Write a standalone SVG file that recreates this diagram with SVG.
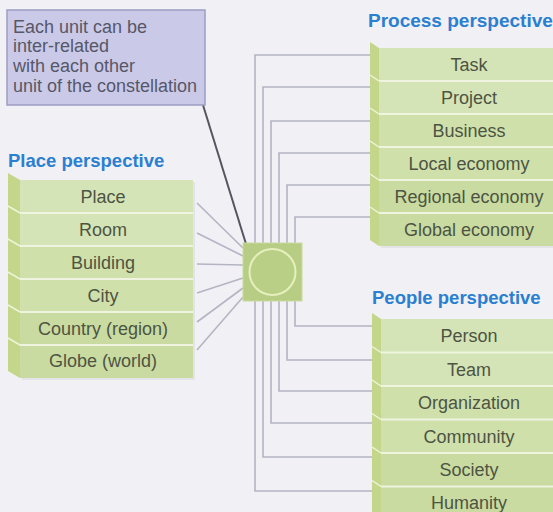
<svg xmlns="http://www.w3.org/2000/svg" width="553" height="512" viewBox="0 0 553 512">
<defs>
<style>
.bg{fill:#f1f1f5}
.row{fill:#d5e4b6}
.row2{fill:#cfe0ab}
.row3{fill:#c9dba0}
.side{fill:#c3d68a}
.sep{stroke:#eef4e0;stroke-width:2}
.diag{stroke:#eef4d8;stroke-width:1.5}
.lbl{font-family:"Liberation Sans",Arial,sans-serif;font-size:18px;fill:#4d5444;text-anchor:middle}
.ttl{font-family:"Liberation Sans",Arial,sans-serif;font-size:18.5px;font-weight:bold;fill:#2b7fd1}
.note{font-family:"Liberation Sans",Arial,sans-serif;font-size:18px;fill:#575768}
.conn{fill:none;stroke:#b4b4c4;stroke-width:1.6}
</style>
</defs>
<rect class="bg" x="0" y="0" width="553" height="512"/>

<g id="connectors">
<!-- process -->
<path class="conn" d="M255,243 V55 H370"/>
<path class="conn" d="M263,243 V87 H370"/>
<path class="conn" d="M271,243 V121 H370"/>
<path class="conn" d="M279,243 V153 H370"/>
<path class="conn" d="M287,243 V185 H370"/>
<path class="conn" d="M295,243 V217 H370"/>
<!-- people -->
<path class="conn" d="M295,301 V326 H372"/>
<path class="conn" d="M287,301 V360 H372"/>
<path class="conn" d="M279,301 V391 H372"/>
<path class="conn" d="M271,301 V423 H372"/>
<path class="conn" d="M263,301 V457 H372"/>
<path class="conn" d="M255,301 V491 H372"/>
<!-- place -->
<path class="conn" d="M197,203 L243,248"/>
<path class="conn" d="M197,233 L243,256"/>
<path class="conn" d="M197,264 L243,265"/>
<path class="conn" d="M197,293 L243,278"/>
<path class="conn" d="M197,322 L243,288"/>
<path class="conn" d="M197,350 L243,297"/>
<!-- callout pointer -->
<path d="M203,105 L246,244" fill="none" stroke="#55555f" stroke-width="2"/>
</g>

<g id="callout">
<rect x="7" y="10" width="198" height="95" fill="#cacae8" stroke="#9d9dc4" stroke-width="1.5"/>
<text class="note" x="13" y="33">Each unit can be</text>
<text class="note" x="13" y="52">inter-related</text>
<text class="note" x="13" y="72">with each other</text>
<text class="note" x="13" y="92">unit of the constellation</text>
</g>

<g id="center">
<rect x="243" y="243" width="59" height="58" fill="#b7cd84" stroke="#c9d9a0" stroke-width="1"/>
<circle cx="272.5" cy="272" r="23" fill="#b9cf86" stroke="#e6efbe" stroke-width="2"/>
</g>

<!-- Place perspective -->
<g id="place">
<text class="ttl" x="8" y="167">Place perspective</text>
<g transform="translate(0,180)">
<rect x="22" y="2" width="173" height="198" fill="#e4e4e8"/>
<rect class="row" x="20" y="0" width="173" height="33"/>
<rect class="row" x="20" y="33" width="173" height="33"/>
<rect class="row2" x="20" y="66" width="173" height="33"/>
<rect class="row2" x="20" y="99" width="173" height="33"/>
<rect class="row3" x="20" y="132" width="173" height="33"/>
<rect class="row3" x="20" y="165" width="173" height="33"/>
<polygon class="side" points="8,-7 20,0 20,198 8,191"/>
<line class="sep" x1="20" y1="33" x2="193" y2="33"/>
<line class="sep" x1="20" y1="66" x2="193" y2="66"/>
<line class="sep" x1="20" y1="99" x2="193" y2="99"/>
<line class="sep" x1="20" y1="132" x2="193" y2="132"/>
<line class="sep" x1="20" y1="165" x2="193" y2="165"/>
<line class="diag" x1="8" y1="26" x2="20" y2="33"/>
<line class="diag" x1="8" y1="59" x2="20" y2="66"/>
<line class="diag" x1="8" y1="92" x2="20" y2="99"/>
<line class="diag" x1="8" y1="125" x2="20" y2="132"/>
<line class="diag" x1="8" y1="158" x2="20" y2="165"/>
<text class="lbl" x="103" y="23">Place</text>
<text class="lbl" x="103" y="56">Room</text>
<text class="lbl" x="103" y="89">Building</text>
<text class="lbl" x="103" y="122">City</text>
<text class="lbl" x="103" y="155">Country (region)</text>
<text class="lbl" x="103" y="187">Globe (world)</text>
</g>
</g>

<!-- Process perspective -->
<g id="process">
<text class="ttl" x="368" y="27" style="font-size:19px">Process perspective</text>
<g transform="translate(0,48)">
<rect x="381" y="2" width="173" height="198" fill="#e4e4e8"/>
<rect class="row" x="379" y="0" width="174" height="33"/>
<rect class="row" x="379" y="33" width="174" height="33"/>
<rect class="row2" x="379" y="66" width="174" height="33"/>
<rect class="row2" x="379" y="99" width="174" height="33"/>
<rect class="row3" x="379" y="132" width="174" height="33"/>
<rect class="row3" x="379" y="165" width="174" height="33"/>
<polygon class="side" points="370,-6 379,0 379,198 370,192"/>
<line class="sep" x1="379" y1="33" x2="553" y2="33"/>
<line class="sep" x1="379" y1="66" x2="553" y2="66"/>
<line class="sep" x1="379" y1="99" x2="553" y2="99"/>
<line class="sep" x1="379" y1="132" x2="553" y2="132"/>
<line class="sep" x1="379" y1="165" x2="553" y2="165"/>
<line class="diag" x1="370" y1="27" x2="379" y2="33"/>
<line class="diag" x1="370" y1="60" x2="379" y2="66"/>
<line class="diag" x1="370" y1="93" x2="379" y2="99"/>
<line class="diag" x1="370" y1="126" x2="379" y2="132"/>
<line class="diag" x1="370" y1="159" x2="379" y2="165"/>
<text class="lbl" x="469" y="23">Task</text>
<text class="lbl" x="469" y="56">Project</text>
<text class="lbl" x="469" y="89">Business</text>
<text class="lbl" x="469" y="122">Local economy</text>
<text class="lbl" x="469" y="155">Regional economy</text>
<text class="lbl" x="469" y="188">Global economy</text>
</g>
</g>

<!-- People perspective -->
<g id="people">
<text class="ttl" x="372" y="304">People perspective</text>
<g transform="translate(0,319)">
<rect class="row" x="381" y="0" width="172" height="33.5"/>
<rect class="row" x="381" y="33.5" width="172" height="33.5"/>
<rect class="row2" x="381" y="67" width="172" height="33.5"/>
<rect class="row2" x="381" y="100.5" width="172" height="33.5"/>
<rect class="row3" x="381" y="134" width="172" height="33.5"/>
<rect class="row3" x="381" y="167.5" width="172" height="30"/>
<polygon class="side" points="372,-6 381,0 381,200 372,200"/>
<line class="sep" x1="381" y1="33.5" x2="553" y2="33.5"/>
<line class="sep" x1="381" y1="67" x2="553" y2="67"/>
<line class="sep" x1="381" y1="100.5" x2="553" y2="100.5"/>
<line class="sep" x1="381" y1="134" x2="553" y2="134"/>
<line class="sep" x1="381" y1="167.5" x2="553" y2="167.5"/>
<line class="diag" x1="372" y1="27.5" x2="381" y2="33.5"/>
<line class="diag" x1="372" y1="61" x2="381" y2="67"/>
<line class="diag" x1="372" y1="94.5" x2="381" y2="100.5"/>
<line class="diag" x1="372" y1="128" x2="381" y2="134"/>
<line class="diag" x1="372" y1="161.5" x2="381" y2="167.5"/>
<text class="lbl" x="469" y="23">Person</text>
<text class="lbl" x="469" y="57">Team</text>
<text class="lbl" x="469" y="90">Organization</text>
<text class="lbl" x="469" y="124">Community</text>
<text class="lbl" x="469" y="157">Society</text>
<text class="lbl" x="469" y="190">Humanity</text>
</g>
</g>
</svg>
